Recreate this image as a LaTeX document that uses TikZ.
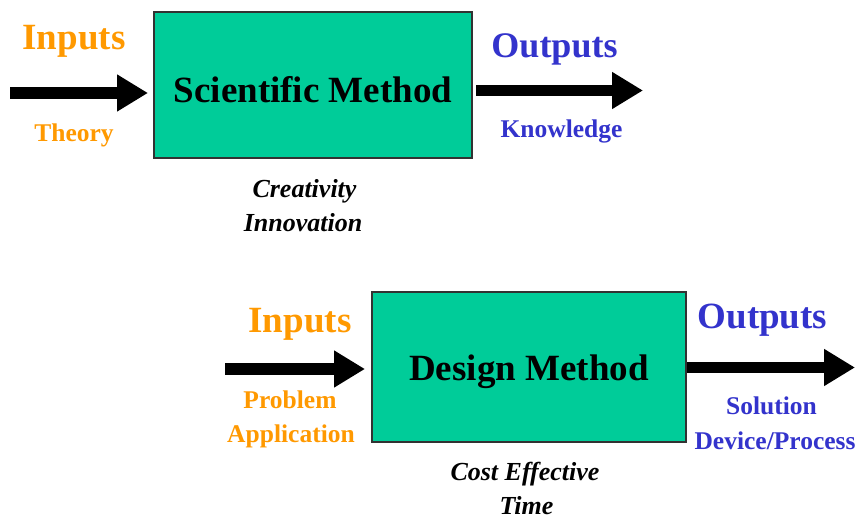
\documentclass[tikz,border=0pt]{standalone}
\usepackage{fontspec}
\setmainfont{Liberation Serif}
\usetikzlibrary{arrows.meta}
\definecolor{boxteal}{RGB}{0,204,153}
\definecolor{inorange}{RGB}{255,153,0}
\definecolor{outblue}{RGB}{51,51,204}
\definecolor{boxedge}{RGB}{50,50,50}
\tikzset{
  methodbox/.style={draw=boxedge, line width=1.2pt, fill=boxteal, inner sep=0pt, outer sep=0pt,
    font=\fontsize{37}{37}\selectfont\bfseries, text=black},
  biglabel/.style={anchor=base, inner sep=0pt, font=\fontsize{37}{37}\selectfont\bfseries},
  smalllabel/.style={anchor=base, inner sep=0pt, font=\fontsize{25.5}{25.5}\selectfont\bfseries},
  notelabel/.style={anchor=base, inner sep=0pt, font=\fontsize{26}{26}\selectfont\bfseries\itshape, text=black},
  fatarrow/.style={draw=black, line width=11.5pt, -{Triangle[length=31pt,width=35pt]}}
}
\begin{document}
\begin{tikzpicture}[x=1pt,y=-1pt]
\useasboundingbox[fill=white] (0,0) rectangle (858,518);

% boxes
\node[methodbox, minimum width=318pt, minimum height=146pt, text height=36pt, text depth=0pt]
  (sci) at (313,85) {Scientific Method};
\node[methodbox, minimum width=314pt, minimum height=150pt, text height=26pt, text depth=0pt]
  (des) at (529,367) {Design Method};

% top labels
\node[biglabel, text=inorange] (in1lab) at (74,50) {Inputs};
\node[smalllabel, text=inorange] (theory) at (74,142) {Theory};
\node[biglabel, text=outblue, font=\fontsize{36}{36}\selectfont\bfseries] (out1lab) at (554.5,58) {Outputs};
\node[smalllabel, text=outblue] (know) at (561.5,138) {Knowledge};
\node[notelabel] (creat) at (304.5,198) {Creativity};
\node[notelabel] (innov) at (303,232) {Innovation};

% bottom labels
\node[biglabel, text=inorange] (in2lab) at (300,332) {Inputs};
\node[smalllabel, text=inorange] (prob) at (290,408) {Problem};
\node[smalllabel, text=inorange] (appl) at (291,442) {Application};
\node[biglabel, text=outblue] (out2lab) at (762.5,328) {Outputs};
\node[smalllabel, text=outblue] (sol) at (771.5,414) {Solution};
\node[smalllabel, text=outblue] (dev) at (775,449) {Device/Process};
\node[notelabel] (cost) at (525,480) {Cost Effective};
\node[notelabel] (time) at (526.5,514) {Time};

% arrow ends
\coordinate (a1s) at (10,93);
\coordinate (a2e) at (643,90.5);
\coordinate (a3s) at (225,369);
\coordinate (a4e) at (855,367.5);

% arrows
\draw[fatarrow, shorten >=6pt] (a1s) -- (a1s -| sci.west);
\draw[fatarrow, shorten <=4pt] (a2e -| sci.east) -- (a2e);
\draw[fatarrow, shorten >=7pt] (a3s) -- (a3s -| des.west);
\draw[fatarrow, shorten <=1pt] (a4e -| des.east) -- (a4e);
\end{tikzpicture}
\end{document}
